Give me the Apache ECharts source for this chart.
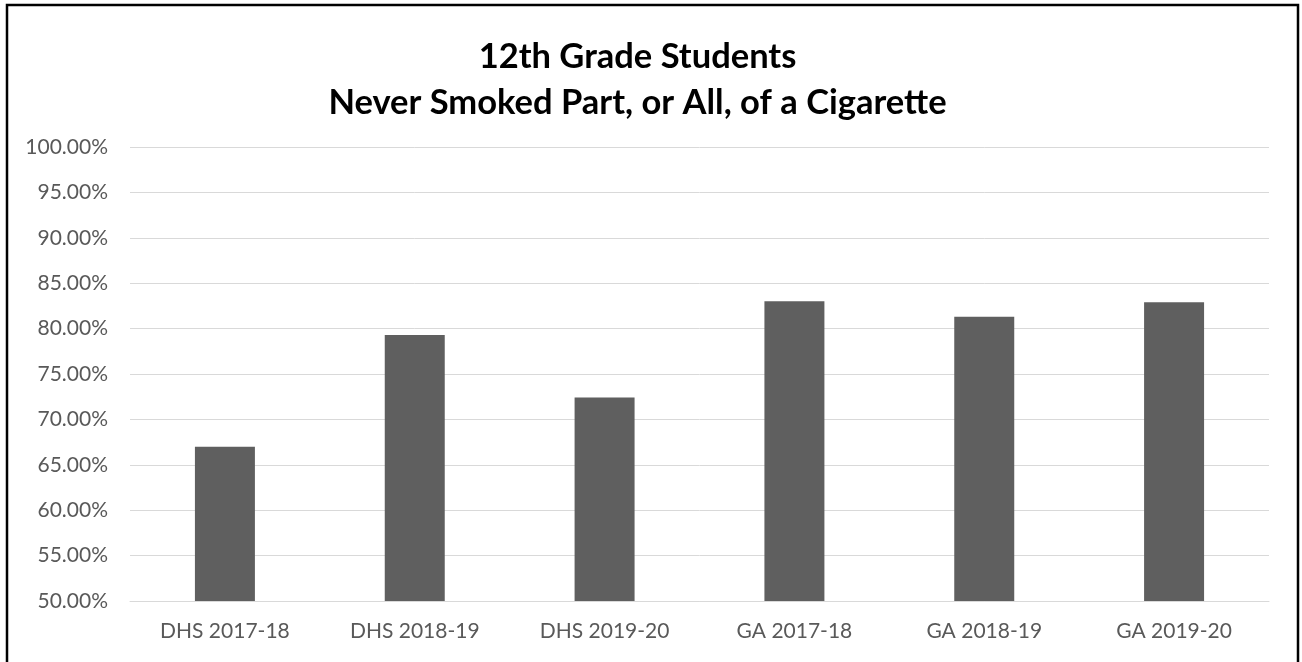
<!DOCTYPE html>
<html>
<head>
<meta charset="utf-8">
<script src="https://cdn.jsdelivr.net/npm/echarts@6/dist/echarts.min.js"></script>
<style>
  html, body { margin: 0; padding: 0; background: #fff; }
  #chart { width: 1302px; height: 662px; }
</style>
</head>
<body>
<div id="chart"></div>
<script>
// Share of 12th graders who have never smoked part or all of a cigarette
const categories = ['DHS 2017-18', 'DHS 2018-19', 'DHS 2019-20', 'GA 2017-18', 'GA 2018-19', 'GA 2019-20'];
const neverSmoked = [67.0, 79.3, 72.4, 83.0, 81.3, 82.9];
const titleLines = ['12th Grade Students', 'Never Smoked Part, or All, of a Cigarette'];

const chart = echarts.init(document.getElementById('chart'), null, { renderer: 'canvas' });
const labelFont = 'Lato, "Open Sans", sans-serif';

chart.setOption({
  animation: false,
  backgroundColor: '#ffffff',
  title: {
    text: titleLines.join('\n'),
    left: 632.5,
    textAlign: 'center',
    top: 29,
    textStyle: {
      fontFamily: labelFont,
      fontWeight: 'bold',
      fontSize: 34.5,
      lineHeight: 46,
      color: '#000000'
    }
  },
  graphic: [{
    type: 'rect',
    shape: { x: 7, y: 5, width: 1291, height: 670 },
    style: { fill: 'none', stroke: '#000000', lineWidth: 2.5 },
    silent: true
  }],
  grid: { left: 130, right: 33, top: 147, bottom: 61 },
  xAxis: {
    type: 'category',
    data: categories,
    axisLine: { lineStyle: { color: '#d9d9d9', width: 1 } },
    axisTick: { show: false },
    axisLabel: { color: '#595959', fontSize: 21, fontFamily: labelFont, margin: 20 }
  },
  yAxis: {
    type: 'value',
    min: 50,
    max: 100,
    interval: 5,
    axisLine: { show: false },
    axisTick: { show: false },
    splitLine: { lineStyle: { color: '#d9d9d9', width: 1 } },
    axisLabel: {
      color: '#595959',
      fontSize: 21,
      fontFamily: labelFont,
      margin: 22,
      formatter: v => v.toFixed(2) + '%'
    }
  },
  series: [{
    type: 'bar',
    data: neverSmoked,
    barWidth: '31.6%',
    itemStyle: { color: '#5f5f5f' }
  }]
});
</script>
</body>
</html>
